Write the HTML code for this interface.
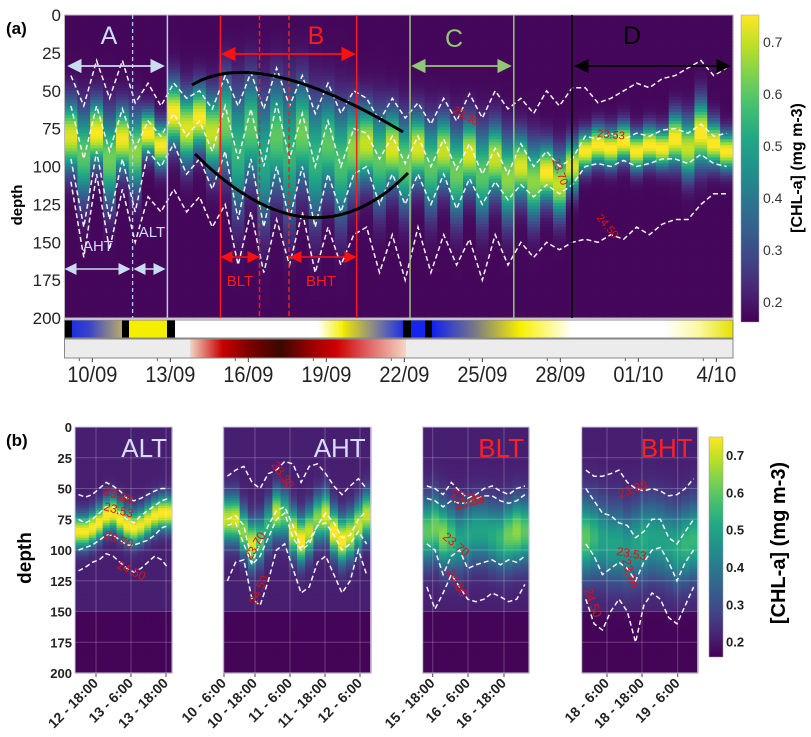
<!DOCTYPE html>
<html><head><meta charset="utf-8">
<style>
html,body{margin:0;padding:0;background:#fff;}
svg{display:block;font-family:"Liberation Sans","DejaVu Sans",sans-serif;}
</style></head>
<body>
<svg id="fig" width="811" height="737" viewBox="0 0 811 737">
<defs>
<linearGradient id="vir" x1="0" y1="1" x2="0" y2="0">
<stop offset="0" stop-color="#440154"/><stop offset="0.1" stop-color="#482475"/><stop offset="0.2" stop-color="#414487"/><stop offset="0.3" stop-color="#355f8d"/><stop offset="0.4" stop-color="#2a788e"/><stop offset="0.5" stop-color="#21918c"/><stop offset="0.6" stop-color="#22a884"/><stop offset="0.7" stop-color="#44bf70"/><stop offset="0.8" stop-color="#7ad151"/><stop offset="0.9" stop-color="#bddf26"/><stop offset="1" stop-color="#fde725"/>
</linearGradient>
<linearGradient id="tideA" x1="0" x2="1"><stop offset="0" stop-color="#1f2fe0"/><stop offset="0.35" stop-color="#3a44c8"/><stop offset="1" stop-color="#b8ac6a"/></linearGradient>
<linearGradient id="tideB" x1="0" x2="1"><stop offset="0" stop-color="#ffffff"/><stop offset="0.6" stop-color="#ffffff"/><stop offset="1" stop-color="#f5f000"/></linearGradient>
<linearGradient id="tideC" x1="0" x2="1"><stop offset="0" stop-color="#eee800"/><stop offset="0.5" stop-color="#8a8a8a"/><stop offset="1" stop-color="#1e2fe6"/></linearGradient>
<linearGradient id="tideD" x1="0" x2="1"><stop offset="0" stop-color="#1020f0"/><stop offset="0.45" stop-color="#707090"/><stop offset="1" stop-color="#f8f000"/></linearGradient>
<linearGradient id="tideE" x1="0" x2="1"><stop offset="0" stop-color="#f8f000"/><stop offset="1" stop-color="#ffffff"/></linearGradient>
<linearGradient id="tideF" x1="0" x2="1"><stop offset="0" stop-color="#ffffff"/><stop offset="0.5" stop-color="#fbf8a0"/><stop offset="1" stop-color="#e6e000"/></linearGradient>
<linearGradient id="redbar" x1="0" x2="1">
<stop offset="0" stop-color="#f4d6c4"/><stop offset="0.15" stop-color="#c80000"/><stop offset="0.28" stop-color="#7a0000"/><stop offset="0.42" stop-color="#3a0800"/><stop offset="0.56" stop-color="#9a0000"/><stop offset="0.68" stop-color="#d00000"/><stop offset="0.82" stop-color="#e06060"/><stop offset="1" stop-color="#f4d6c4"/>
</linearGradient>
<marker id="mW" markerWidth="8" markerHeight="8" refX="7" refY="4" orient="auto-start-reverse"><path d="M0,0 L8,4 L0,8 z" fill="#c8dcf0"/></marker>
<marker id="mR" markerWidth="8" markerHeight="8" refX="7" refY="4" orient="auto-start-reverse"><path d="M0,0 L8,4 L0,8 z" fill="#ff1010"/></marker>
<marker id="mG" markerWidth="8" markerHeight="8" refX="7" refY="4" orient="auto-start-reverse"><path d="M0,0 L8,4 L0,8 z" fill="#90c878"/></marker>
<marker id="mK" markerWidth="8" markerHeight="8" refX="7" refY="4" orient="auto-start-reverse"><path d="M0,0 L8,4 L0,8 z" fill="#000"/></marker>
</defs>
<g id="heatA"></g>
<g id="heatB"></g>
<g id="over"></g>
</svg>
<script>
// ---------- Panel (a) data: half-day columns from 8.9 Sep to 4.6 Oct ----------
const aCenter = [80,92,78,95,82,90, 78,86, 65,75,68,78, 72,90,75,95,80,92,78,95,85,98,88, 85,95,88,98, 88,100,90,104,92,105,95,108, 100,110,104,112,100, 90,86,88,84,90,86,88, 82,88,78,85,90];
const aPeak = [0.72,0.6,0.75,0.62,0.74,0.65, 0.76,0.75, 0.76,0.72,0.75,0.7, 0.62,0.55,0.6,0.52,0.6,0.55,0.62,0.55,0.6,0.58,0.65, 0.7,0.6,0.72,0.62, 0.72,0.6,0.7,0.62,0.72,0.6,0.7,0.65, 0.72,0.65,0.75,0.7,0.72, 0.76,0.76,0.76,0.76,0.76,0.76,0.76, 0.76,0.7,0.76,0.76,0.76];
const aWidth = [22,28,20,28,20,24, 14,14, 20,22,20,24, 30,38,32,40,34,40,32,38,30,36,28, 24,30,24,28, 22,28,22,28,22,28,22,26, 20,24,18,20,16, 12,12,12,12,12,12,12, 16,18,20,14,12];
const aIso2330 = [40,60,30,55,30,58, 45,60, 45,55,50,62, 40,60,38,62,35,60,40,65,45,65,50, 55,70,55,68, 58,72,55,70,52,68,50,62, 55,65,50,60,48, 48,58,55,50,45,48,42, 40,35,30,40,35];
const aIso2353 = [60,95,60,90,62,88, 70,80, 65,80,70,90, 60,95,62,100,58,95,65,100,70,100,75, 78,95,80,98, 80,100,82,102,85,105,88,105, 85,100,90,100,95, 80,82,78,82,78,80,76, 75,78,72,80,78];
const aIso2370 = [95,140,90,135,95,130, 90,100, 85,105,95,115, 90,135,95,140,100,135,100,140,105,130,105, 100,125,105,125, 105,125,105,128,108,125,110,122, 112,120,112,118,112, 100,98,100,96,100,98,95, 95,98,92,98,100];
const aIso2450 = [110,160,105,155,115,150, 120,130, 115,130,120,140, 125,165,130,170,135,165,130,170,140,165,145, 140,170,145,175, 140,170,145,165,148,175,145,165, 150,160,150,155,150, 148,150,145,148,140,145,138, 135,135,125,118,118];
const depthTicks = [0,25,50,75,100,125,150,175,200];
const dateLabels = ["10/09","13/09","16/09","19/09","22/09","25/09","28/09","01/10","4/10"];
const dateDays = [10,13,16,19,22,25,28,31,34];
const cbTicks = [0.2,0.3,0.4,0.5,0.6,0.7];
// ---------- Panel (b) data ----------
const altCenter=[85,85,82,78,72,70,75,80,82,80,76,72,70,70];
const altPeak=[0.75,0.75,0.76,0.76,0.76,0.76,0.76,0.76,0.75,0.74,0.74,0.75,0.76,0.76];
const altWidth=[13,13,13,13,13,13,13,13,13,13,13,13,13,13];
const altI1=[55,57,55,50,45,48,52,58,60,58,55,52,50,50];
const altI2=[75,78,75,70,65,65,70,75,78,72,68,64,60,58];
const altI3=[100,98,96,92,88,88,92,96,96,94,92,88,82,80];
const altI4=[117,114,110,108,103,105,110,115,118,115,110,105,108,115];
const ahtCenter=[75,75,85,95,92,80,70,72,85,92,85,75,72,85,92,88,80,72];
const ahtPeak=[0.7,0.72,0.65,0.72,0.6,0.55,0.7,0.6,0.72,0.76,0.7,0.65,0.72,0.76,0.76,0.72,0.7,0.7];
const ahtWidth=[18,18,18,18,18,18,18,18,18,18,18,18,18,18,18,18,18,18];
const ahtI1=[40,35,32,45,50,38,35,28,30,45,32,30,38,48,55,48,42,50];
const ahtI2=[75,72,80,110,95,80,68,65,80,98,92,80,70,78,90,88,75,68];
const ahtI3=[80,78,95,112,105,90,75,70,90,100,95,80,78,88,100,95,85,95];
const ahtI4=[125,110,108,140,145,125,100,95,115,135,130,110,105,120,135,125,100,120];
const bltCenter=[85,82,88,90,92,88,85,85,88,90,88,85,85];
const bltPeak=[0.6,0.62,0.65,0.58,0.5,0.5,0.5,0.5,0.52,0.55,0.62,0.65,0.6];
const bltWidth=[25,25,25,25,25,25,25,25,25,25,25,25,25];
const bltI1=[48,50,55,45,52,58,55,50,48,52,55,50,48];
const bltI2=[58,60,65,60,62,62,58,56,56,60,62,60,55];
const bltI3=[95,100,120,105,100,115,112,110,108,112,108,110,105];
const bltI4=[130,148,135,120,130,140,142,140,135,138,142,140,128];
const bhtCenter=[90,90,92,95,95,98,95,92,90,92,95,98,95,92];
const bhtPeak=[0.6,0.55,0.5,0.5,0.5,0.48,0.5,0.52,0.5,0.5,0.5,0.52,0.55,0.55];
const bhtWidth=[30,30,30,30,30,30,30,30,30,30,30,30,30,30];
const bhtI1=[35,40,40,38,35,45,50,52,50,52,56,55,50,42];
const bhtI2=[50,60,70,72,78,80,90,85,75,75,90,95,85,75];
const bhtI3=[95,105,120,115,110,115,125,110,100,98,110,125,110,100];
const bhtI4=[140,160,165,150,140,150,175,145,135,140,155,160,145,130];
const altTicks=["12 - 18:00","13 - 6:00","13 - 18:00"];
const ahtTicks=["10 - 6:00","10 - 18:00","11 - 6:00","11 - 18:00","12 - 6:00"];
const bltTicks=["15 - 18:00","16 - 6:00","16 - 18:00"];
const bhtTicks=["18 - 6:00","18 - 18:00","19 - 6:00"];

const NS="http://www.w3.org/2000/svg";
function mk(tag,attrs,parent){const e=document.createElementNS(NS,tag);for(const k in attrs)e.setAttribute(k,attrs[k]);parent.appendChild(e);return e;}
const VS=[[68,1,84],[72,36,117],[65,68,135],[53,95,141],[42,120,142],[33,145,140],[34,168,132],[68,191,112],[122,209,81],[189,223,38],[253,231,37]];
function vir(v){let t=(v-0.16)/(0.75-0.16);t=Math.max(0,Math.min(1,t));const f=t*10,i=Math.min(9,Math.floor(f)),r=f-i;const a=VS[i],b=VS[i+1];return `rgb(${Math.round(a[0]+(b[0]-a[0])*r)},${Math.round(a[1]+(b[1]-a[1])*r)},${Math.round(a[2]+(b[2]-a[2])*r)})`;}

function drawHeat(g,x0,x1,y0,y1,cen,pk,wd,bgFn,isos,name){
  const n=cen.length,cw=(x1-x0)/n,ys=d=>y0+d*(y1-y0)/200;
  for(let i=0;i<n;i++){
    for(let d=0;d<200;d+=2){
      const bg=bgFn(d);
      const z=(d+1-cen[i])/wd[i];
      const v=bg+(pk[i]-bg)*Math.exp(-z*z);
      const r=mk('rect',{x:(x0+i*cw).toFixed(2),y:ys(d).toFixed(2),width:(cw+0.6).toFixed(2),height:((y1-y0)/100+0.6).toFixed(2),fill:vir(v)},g);
      
      
    }
  }
  isos.forEach((arr,k)=>{
    let p='';
    arr.forEach((d,i)=>{p+=(i?'L':'M')+(x0+(i+0.5)*cw).toFixed(1)+','+ys(d).toFixed(1);});
    const pl=mk('path',{d:p,fill:'none',stroke:'#f4f4f4','stroke-width':1.5,'stroke-dasharray':'5,3'},g);
    
    
  });
}
const HA=document.getElementById('heatA'),HB=document.getElementById('heatB'),OV=document.getElementById('over');
// panel a
const AX0=64.5,AX1=733,AY0=15,AY1=318;
drawHeat(HA,AX0,AX1,AY0,AY1,aCenter,aPeak,aWidth,d=>0.17,[aIso2330,aIso2353,aIso2370,aIso2450],'panel-a');
mk('rect',{x:AX0,y:AY0,width:AX1-AX0,height:AY1-AY0,fill:'none',stroke:'#bbb','stroke-width':1},OV);
const ay=d=>AY0+d*(AY1-AY0)/200;
depthTicks.forEach(d=>{const t=mk('text',{x:61,y:ay(d)+6,'font-size':17,'text-anchor':'end',fill:'#222'},OV);t.textContent=d;
 });
// tide bar
const tide=[[64.5,72,'#000'],[72,122,'url(#tideA)'],[122,129,'#000'],[129,167,'#f4ee00'],[167,175,'#000'],[175,280,'#fff'],[280,343,'url(#tideB)'],[343,403,'url(#tideC)'],[403,411,'#000'],[411,425,'#1525ee'],[425,432,'#000'],[432,520,'url(#tideD)'],[520,572,'url(#tideE)'],[572,665,'#fff'],[665,733,'url(#tideF)']];
tide.forEach(s=>{const r=mk('rect',{x:s[0],y:320,width:s[1]-s[0]+0.3,height:18,fill:s[2]},OV);});
mk('rect',{x:64.5,y:320,width:668.5,height:18,fill:'none',stroke:'#888','stroke-width':1},OV);
mk('rect',{x:64.5,y:339,width:668.5,height:19,fill:'#ececec',stroke:'#888','stroke-width':1},OV);
mk('rect',{x:190,y:339.5,width:216,height:18,fill:'url(#redbar)'},OV);
// date axis
const dx=day=>AX0+(day-8.93)*26;
dateDays.forEach((d,i)=>{
  mk('line',{x1:dx(d),x2:dx(d),y1:358,y2:362,stroke:'#444'},OV);
  mk('line',{x1:dx(d)-13,x2:dx(d)-13,y1:358,y2:361,stroke:'#666'},OV);
  const t=mk('text',{x:dx(d),y:382,'font-size':22,'text-anchor':'middle',fill:'#222',textLength:(dateLabels[i].length>4?50:40),lengthAdjust:'spacingAndGlyphs'},OV);
  t.textContent=dateLabels[i];
  
});
// colorbar a
const cbA=mk('rect',{x:741,y:15,width:18,height:307,fill:'url(#vir)',stroke:'#999','stroke-width':0.5},OV);

cbTicks.forEach(v=>{const y=42+(0.7-v)*520;const t=mk('text',{x:763,y:y+5,'font-size':14,fill:'#333'},OV);t.textContent=v.toFixed(1);
 });
// colorbar b
const BY0=427,BY1=673;
const cbB=mk('rect',{x:709,y:437,width:14,height:220,fill:'url(#vir)',stroke:'#999','stroke-width':0.5},OV);

cbTicks.forEach(v=>{const y=455+(0.7-v)*373.3;const t=mk('text',{x:726,y:y+5,'font-size':13,'font-weight':'bold',fill:'#222'},OV);t.textContent=v.toFixed(1);
 });
// panel b subplots
const by=d=>BY0+d*(BY1-BY0)/200;
const subs=[
 {name:'alt',x0:75,x1:172,c:altCenter,p:altPeak,w:altWidth,iso:[altI1,altI2,altI3,altI4],ticks:altTicks,tx:[96,131,166],lab:'ALT',lc:'#d8dcff'},
 {name:'aht',x0:223.3,x1:370.7,c:ahtCenter,p:ahtPeak,w:ahtWidth,iso:[ahtI1,ahtI2,ahtI3,ahtI4],ticks:ahtTicks,tx:[224,255,290,325,360],lab:'AHT',lc:'#d8dcff'},
 {name:'blt',x0:422.7,x1:529,c:bltCenter,p:bltPeak,w:bltWidth,iso:[bltI1,bltI2,bltI3,bltI4],ticks:bltTicks,tx:[432.7,468,504],lab:'BLT',lc:'#ff2020'},
 {name:'bht',x0:581.7,x1:697.7,c:bhtCenter,p:bhtPeak,w:bhtWidth,iso:[bhtI1,bhtI2,bhtI3,bhtI4],ticks:bhtTicks,tx:[607,642,677.7],lab:'BHT',lc:'#ff2020'}];
subs.forEach(s=>{
  const g=mk('g',{},HB);
  drawHeat(g,s.x0,s.x1,BY0,BY1,s.c,s.p,s.w,d=>d<150?0.21:0.165,s.iso,s.name);
  depthTicks.forEach(d=>mk('line',{x1:s.x0,x2:s.x1,y1:by(d),y2:by(d),stroke:'rgba(255,255,255,0.22)','stroke-width':1},g));
  s.tx.forEach((x,i)=>{
    mk('line',{x1:x,x2:x,y1:BY0,y2:BY1,stroke:'rgba(255,255,255,0.22)','stroke-width':1},g);
    mk('line',{x1:x,x2:x,y1:BY1,y2:BY1+4,stroke:'#444'},OV);
    const t=mk('text',{x:x+3,y:BY1+11,'font-size':14,'font-weight':'bold','text-anchor':'end',fill:'#222',transform:`rotate(-45 ${x+3} ${BY1+11})`},OV);
    t.textContent=s.ticks[i];
    
  });
  mk('rect',{x:s.x0,y:BY0,width:s.x1-s.x0,height:BY1-BY0,fill:'none',stroke:'#c8c8d8','stroke-width':1},OV);
  const t=mk('text',{x:s.x1-5,y:BY0+30,'font-size':26,'text-anchor':'end',fill:s.lc},OV);t.textContent=s.lab;
  
});
depthTicks.forEach(d=>{const t=mk('text',{x:72,y:by(d)+5,'font-size':13,'font-weight':'bold','text-anchor':'end',fill:'#222'},OV);t.textContent=d;
 });
</script>
<svg width="811" height="737" viewBox="0 0 811 737" style="position:absolute;left:0;top:0">
<g font-family="Liberation Sans, DejaVu Sans, sans-serif">
<text x="6" y="34" font-size="17" font-weight="bold">(a)</text>
<text x="6" y="446" font-size="17" font-weight="bold">(b)</text>
<text transform="translate(22,205) rotate(-90)" font-size="15" font-weight="bold" text-anchor="middle">depth</text>
<text transform="translate(31,558) rotate(-90)" font-size="19" font-weight="bold" text-anchor="middle">depth</text>
<text transform="translate(802,168) rotate(-90)" font-size="16" font-weight="bold" text-anchor="middle">[CHL-a] (mg m-3)</text>
<text transform="translate(785,543) rotate(-90)" font-size="20" font-weight="bold" text-anchor="middle">[CHL-a] (mg m-3)</text>
<line x1="132.6" y1="15" x2="132.6" y2="318" stroke="#b8cce8" stroke-width="1.3" stroke-dasharray="4,3"/>
<line x1="167.4" y1="15" x2="167.4" y2="318" stroke="#b8cce8" stroke-width="1.5"/>
<line x1="220.5" y1="15" x2="220.5" y2="318" stroke="#ff1a1a" stroke-width="1.5"/>
<line x1="259.5" y1="15" x2="259.5" y2="318" stroke="#ff1a1a" stroke-width="1.5" stroke-dasharray="5,3"/>
<line x1="289" y1="15" x2="289" y2="318" stroke="#ff1a1a" stroke-width="1.5" stroke-dasharray="5,3"/>
<line x1="356.7" y1="15" x2="356.7" y2="318" stroke="#ff1a1a" stroke-width="1.5"/>
<line x1="410" y1="15" x2="410" y2="318" stroke="#90c878" stroke-width="1.5"/>
<line x1="513.8" y1="15" x2="513.8" y2="318" stroke="#90c878" stroke-width="1.5"/>
<line x1="572" y1="15" x2="572" y2="318" stroke="#000" stroke-width="1.5"/>
<text x="109" y="44" font-size="25" fill="#d0dcff" text-anchor="middle">A</text>
<text x="316" y="44" font-size="25" fill="#ff1a1a" text-anchor="middle">B</text>
<text x="454" y="47" font-size="25" fill="#90c878" text-anchor="middle">C</text>
<text x="632" y="44" font-size="25" fill="#000" text-anchor="middle">D</text>
<line x1="69" y1="66" x2="163" y2="66" stroke="#c8dcf0" stroke-width="1.8" marker-start="url(#mW)" marker-end="url(#mW)"/>
<line x1="223" y1="54" x2="354" y2="54" stroke="#ff1010" stroke-width="1.8" marker-start="url(#mR)" marker-end="url(#mR)"/>
<line x1="413" y1="66" x2="510" y2="66" stroke="#90c878" stroke-width="1.8" marker-start="url(#mG)" marker-end="url(#mG)"/>
<line x1="576" y1="66" x2="729" y2="66" stroke="#000" stroke-width="1.8" marker-start="url(#mK)" marker-end="url(#mK)"/>
<text x="98" y="251" font-size="15" fill="#d0dcff" text-anchor="middle">AHT</text>
<text x="152" y="237" font-size="15" fill="#d0dcff" text-anchor="middle">ALT</text>
<line x1="66" y1="269" x2="129" y2="269" stroke="#c8dcf0" stroke-width="1.5" marker-start="url(#mW)" marker-end="url(#mW)"/>
<line x1="135" y1="269" x2="164" y2="269" stroke="#c8dcf0" stroke-width="1.5" marker-start="url(#mW)" marker-end="url(#mW)"/>
<text x="240" y="286" font-size="15" fill="#ff1a1a" text-anchor="middle">BLT</text>
<text x="321" y="286" font-size="15" fill="#ff1a1a" text-anchor="middle">BHT</text>
<line x1="222" y1="257" x2="258" y2="257" stroke="#ff1010" stroke-width="1.5" marker-start="url(#mR)" marker-end="url(#mR)"/>
<line x1="291" y1="257" x2="355" y2="257" stroke="#ff1010" stroke-width="1.5" marker-start="url(#mR)" marker-end="url(#mR)"/>
<path d="M192,85 Q258,45 403,132" fill="none" stroke="#000" stroke-width="3"/>
<path d="M195,154 Q312,271 408,173" fill="none" stroke="#000" stroke-width="3"/>
<g fill="#e01010" font-size="11">
<text transform="translate(452,112) rotate(30)">23.30</text>
<text transform="translate(597,137) rotate(5)">23.53</text>
<text transform="translate(552,160) rotate(70)">23.70</text>
<text transform="translate(596,218) rotate(50)">24.50</text>
<text transform="translate(103,494) rotate(20)" font-size="12">23.30</text>
<text transform="translate(103,510) rotate(15)" font-size="12">23.53</text>
<text transform="translate(103,538) rotate(20)" font-size="12">23.70</text>
<text transform="translate(116,568) rotate(25)" font-size="12">24.50</text>
<text transform="translate(271,465) rotate(55)" font-size="12">23.30</text>
<text transform="translate(251,561) rotate(-60)" font-size="12">23.70</text>
<text transform="translate(256,605) rotate(-65)" font-size="12">24.50</text>
<text transform="translate(451,497) rotate(15)" font-size="12">23.30</text>
<text transform="translate(456,510) rotate(-15)" font-size="12">23.53</text>
<text transform="translate(442,538) rotate(40)" font-size="12">23.70</text>
<text transform="translate(446,572) rotate(60)" font-size="12">24.50</text>
<text transform="translate(620,498) rotate(-20)" font-size="12">23.30</text>
<text transform="translate(616,555) rotate(10)" font-size="12">23.53</text>
<text transform="translate(622,560) rotate(75)" font-size="12">23.70</text>
<text transform="translate(584,590) rotate(70)" font-size="12">24.50</text>
</g>
</g>
</svg>
</body></html>
